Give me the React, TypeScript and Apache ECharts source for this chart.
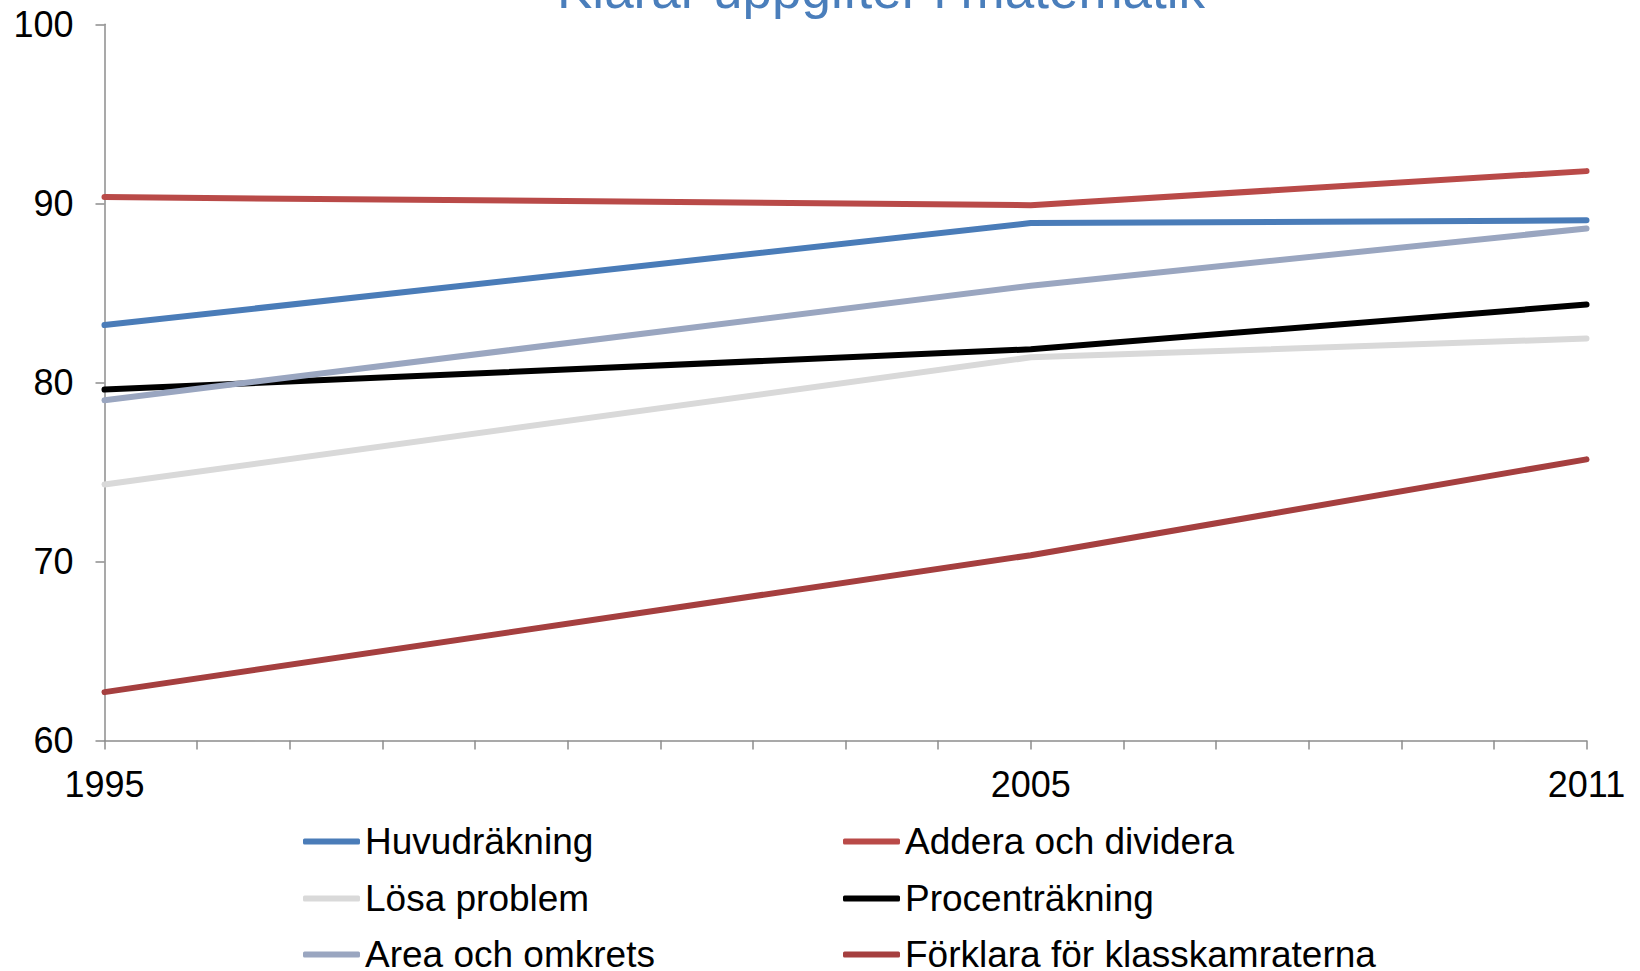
import React, { useEffect, useRef } from "react";
import * as echarts from "echarts";

const years = [1995, 2005, 2011];
const yTicks = [60, 70, 80, 90, 100];
const xLabelYears = [1995, 2005, 2011];

const seriesNames = [
  "Huvudräkning",
  "Addera och dividera",
  "Lösa problem",
  "Procenträkning",
  "Area och omkrets",
  "Förklara för klasskamraterna",
];

const huvudrakning = [83.2, 88.9, 89.05];
const adderaDividera = [90.35, 89.9, 91.8];
const losaProblem = [74.3, 81.4, 82.45];
const procentrakning = [79.6, 81.85, 84.35];
const areaOmkrets = [79.0, 85.4, 88.6];
const forklara = [62.7, 70.35, 75.7];

const seriesValues = [huvudrakning, adderaDividera, losaProblem, procentrakning, areaOmkrets, forklara];
const seriesColors = ["#4A7CB8", "#B94A48", "#D9D9D9", "#000000", "#9AA6C0", "#A53F3F"];

const title = "Klarar uppgifter i matematik";
const FONT = "'Liberation Sans', Arial, sans-serif";

// legend grid: 2 columns, 3 rows
const legendColumnsLeft = [303, 843];
const legendRowsTop = [823, 880, 936];

export default function App() {
  const ref = useRef<HTMLDivElement>(null);

  useEffect(() => {
    if (!ref.current) return;
    const chart = echarts.init(ref.current, null, { renderer: "svg" });

    const series = seriesNames.map((name, i) => ({
      name,
      type: "line",
      data: years.map((y, j) => [y, seriesValues[i][j]]),
      showSymbol: false,
      symbol: "none",
      color: seriesColors[i],
      lineStyle: { color: seriesColors[i], width: 6, cap: "round" },
      itemStyle: { color: seriesColors[i] },
    }));

    const legends = seriesNames.map((name, i) => ({
      orient: "horizontal",
      left: legendColumnsLeft[i % 2],
      top: legendRowsTop[Math.floor(i / 2)],
      padding: 0,
      itemWidth: 57,
      itemHeight: 6,
      icon: "roundRect",
      textStyle: { fontSize: 37, color: "#000", fontFamily: FONT },
      selectedMode: false,
      data: [name],
    }));

    chart.setOption({
      animation: false,
      backgroundColor: "#ffffff",
      title: {
        text: title,
        left: 557,
        top: -37,
        padding: 0,
        textStyle: { fontSize: 53, fontWeight: "normal", color: "#4A7EBB", fontFamily: FONT },
      },
      grid: { left: 104.5, right: 53.5, top: 24.3, bottom: 230.5, containLabel: false },
      legend: legends,
      xAxis: {
        type: "value",
        min: 1995,
        max: 2011,
        interval: 1,
        axisLine: { show: true, lineStyle: { color: "#8C8C8C", width: 1.5 } },
        axisTick: { show: true, length: 9, lineStyle: { color: "#8C8C8C", width: 1.5 } },
        splitLine: { show: false },
        axisLabel: {
          margin: 26,
          fontSize: 36,
          color: "#000",
          fontFamily: FONT,
          showMaxLabel: true,
          showMinLabel: true,
          formatter: (v: number) => (xLabelYears.includes(v) ? String(v) : ""),
        },
      },
      yAxis: {
        type: "value",
        min: yTicks[0],
        max: yTicks[yTicks.length - 1],
        interval: 10,
        axisLine: { show: true, lineStyle: { color: "#8C8C8C", width: 1.5 } },
        axisTick: { show: true, length: 9, lineStyle: { color: "#8C8C8C", width: 1.5 } },
        splitLine: { show: false },
        axisLabel: { margin: 31, fontSize: 36, color: "#000", fontFamily: FONT },
      },
      series,
    });

    return () => chart.dispose();
  }, []);

  return (
    <div
      ref={ref}
      style={{ position: "absolute", left: 0, top: 0, width: 1640, height: 971, background: "#fff" }}
    />
  );
}
